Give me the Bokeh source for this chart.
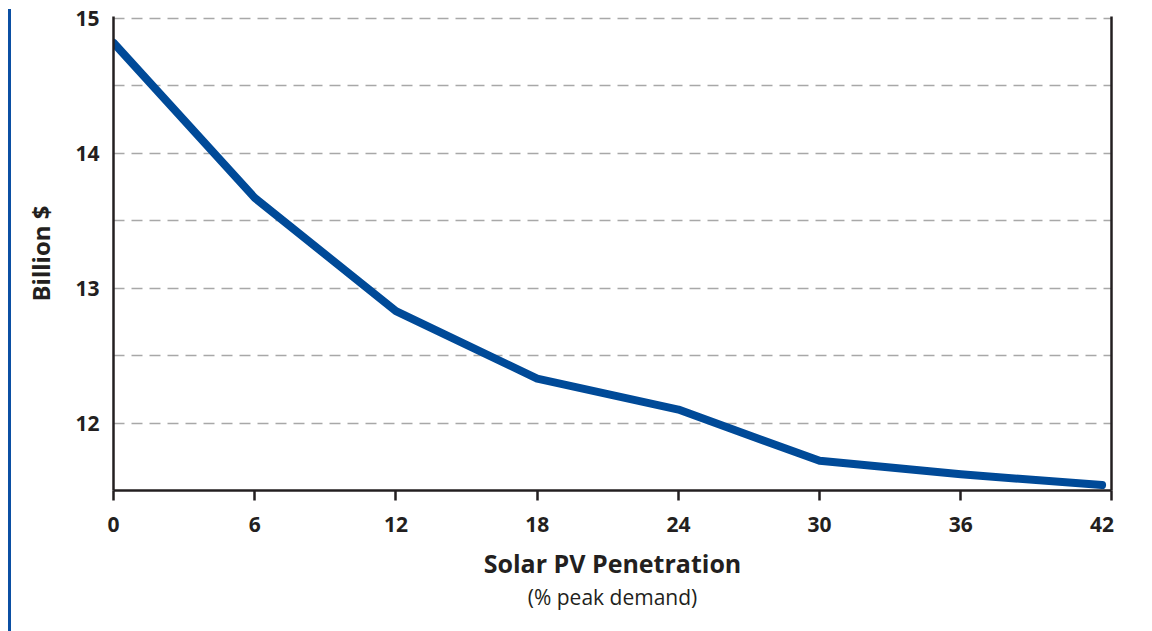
from bokeh.plotting import figure
from bokeh.models import (Range1d, FixedTicker, LinearAxis, Title, Div)
from bokeh.layouts import row
from bokeh.embed import file_html
from bokeh.resources import INLINE

# Data
penetration = [0, 6, 12, 18, 24, 30, 36, 42]
cost_billion = [14.82, 13.67, 12.83, 12.33, 12.10, 11.72, 11.62, 11.54]
x_ticks = [0, 6, 12, 18, 24, 30, 36, 42]
y_ticks = [12, 13, 14, 15]
grid_levels = [12, 12.5, 13, 13.5, 14, 14.5, 15]

DARK = "#231f20"
BLUE = "#004a98"
FONT = "Open Sans"

p = figure(width=1130, height=619, output_backend="svg", toolbar_location=None,
           x_range=Range1d(0, 42.4), y_range=Range1d(11.5, 15.015),
           min_border_left=102, min_border_right=30, min_border_top=12,
           min_border_bottom=133, margin=(4, 0, 0, 0))
p.outline_line_color = None
p.background_fill_color = "white"
p.border_fill_color = "white"

p.line(penetration, cost_billion, line_width=8, line_color=BLUE,
       line_cap="round", line_join="round")

# x axis
xa = p.xaxis[0]
xa.ticker = FixedTicker(ticks=x_ticks, minor_ticks=[0, 6, 12, 18, 24, 30, 36, 42.4])
xa.major_tick_out = 0
xa.major_tick_in = 0
xa.minor_tick_out = 10
xa.minor_tick_in = 0
xa.minor_tick_line_color = DARK
xa.minor_tick_line_width = 2.5
xa.axis_line_color = DARK
xa.axis_line_width = 2.5
xa.major_label_text_font = FONT
xa.major_label_text_font_style = "bold"
xa.major_label_text_font_size = "21px"
xa.major_label_text_color = DARK
xa.major_label_standoff = 16
xa.axis_label = "Solar PV Penetration"
xa.axis_label_text_font = FONT
xa.axis_label_text_font_style = "bold"
xa.axis_label_text_font_size = "25px"
xa.axis_label_text_color = DARK
xa.axis_label_standoff = 11

# y axis
ya = p.yaxis[0]
ya.ticker = FixedTicker(ticks=y_ticks)
ya.major_tick_out = 0
ya.major_tick_in = 0
ya.minor_tick_out = 0
ya.minor_tick_in = 0
ya.axis_line_color = DARK
ya.axis_line_width = 2.5
ya.major_label_text_font = FONT
ya.major_label_text_font_style = "bold"
ya.major_label_text_font_size = "21px"
ya.major_label_text_color = DARK
ya.major_label_standoff = 14
ya.axis_label = "Billion $"
ya.axis_label_text_font = FONT
ya.axis_label_text_font_style = "bold"
ya.axis_label_text_font_size = "24px"
ya.axis_label_text_color = DARK
ya.axis_label_standoff = 15

# right border as an axis line
ra = LinearAxis(ticker=FixedTicker(ticks=[]), major_label_text_font_size="0px",
                major_tick_out=0, major_tick_in=0, minor_tick_out=0, minor_tick_in=0,
                axis_line_color=DARK, axis_line_width=2.5)
p.add_layout(ra, "right")

# grid
p.xgrid.grid_line_color = None
p.ygrid.ticker = FixedTicker(ticks=grid_levels)
p.ygrid.grid_line_color = "#a8a8a8"
p.ygrid.grid_line_width = 1.5
p.ygrid.grid_line_dash = "11 7"

sub = Title(text="(% peak demand)", align="center", text_font=FONT,
            text_font_style="normal", text_font_size="21px", text_color=DARK,
            standoff=0, vertical_align="top", text_line_height=0.4)
p.add_layout(sub, "below")

bar = Div(text="", width=3, height=622, margin=(9, 0, 0, 8),
          styles={"background-color": "#0b4fa3", "padding": "0"})

layout = row(bar, p, spacing=0)

open("out.html", "w").write(file_html(layout, INLINE))
